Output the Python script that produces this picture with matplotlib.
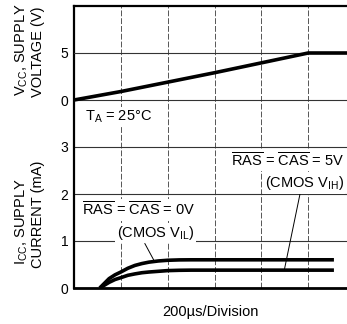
import matplotlib
matplotlib.use("Agg")
import matplotlib.pyplot as plt

plt.rcParams['font.family'] = ['Liberation Sans', 'DejaVu Sans']
plt.rcParams['mathtext.fontset'] = 'custom'
plt.rcParams['mathtext.rm'] = 'Liberation Sans'
plt.rcParams['mathtext.it'] = 'Liberation Sans:italic'

# time axis in microseconds (200 us / division)
div_ticks = [0, 200, 400, 600, 800, 1000, 1200]

# supply voltage ramp
t_volt = [0, 200, 400, 600, 800, 1000, 1200]
vcc = [0, 0.9, 1.9, 2.9, 3.95, 5.0, 5.0]

# supply current curves (mA)
t_curr = [110, 130, 150, 175, 200, 230, 260, 290, 320, 360, 400, 450, 500, 1110]
icc_vil = [0, 0.1, 0.2, 0.28, 0.34, 0.42, 0.48, 0.52, 0.55, 0.575, 0.59, 0.598, 0.6, 0.6]
icc_vih = [0, 0.06, 0.12, 0.18, 0.22, 0.27, 0.3, 0.325, 0.34, 0.355, 0.37, 0.377, 0.38, 0.38]

curr_ticks = [0, 1, 2, 3]
volt_ticks = [0, 5]

fig = plt.figure(figsize=(3.47, 3.24), dpi=100)
ax = fig.add_axes([74 / 347, 36 / 324, 281 / 347, 282 / 324])
axv = ax.twinx()

ax.set_xlim(0, 1200)
ax.set_ylim(0, 6)
axv.set_ylim(-20, 10)

ax.set_xticks(div_ticks)
ax.set_xticklabels([])
ax.set_yticks(curr_ticks)
axv.set_yticks(volt_ticks)
axv.yaxis.tick_left()

for a in (ax, axv):
    a.tick_params(length=0, labelsize=10, pad=4)
    for s in a.spines.values():
        s.set_visible(False)

ax.spines['left'].set_visible(True)
ax.spines['left'].set_linewidth(1.6)
ax.spines['bottom'].set_visible(True)
ax.spines['bottom'].set_linewidth(2.0)
ax.spines['top'].set_visible(True)
ax.spines['top'].set_linewidth(1.6)

ax.grid(axis='x', color='#555555', linewidth=0.7, linestyle=(0, (6, 2)))
ax.grid(axis='y', color='#333333', linewidth=0.8)
axv.grid(axis='y', color='#333333', linewidth=0.8)
ax.set_axisbelow(True)
axv.set_axisbelow(True)

axv.plot(t_volt, vcc, color='black', linewidth=2.6, solid_capstyle='butt', zorder=5)
ax.plot(t_curr, icc_vil, color='black', linewidth=2.6, solid_capstyle='butt', zorder=5)
ax.plot(t_curr, icc_vih, color='black', linewidth=2.6, solid_capstyle='butt', zorder=5)

box = dict(facecolor='white', edgecolor='none', pad=1.0)
fs = 10.5
ax.text(47, 3.64, r'T$_\mathrm{A}$ = 25°C', fontsize=fs, ha='left', va='center', bbox=box, zorder=6)
ax.text(1153, 2.72, r'$\overline{\mathrm{RAS}}$ = $\overline{\mathrm{CAS}}$ = 5V',
        fontsize=fs, ha='right', va='center', bbox=box, zorder=6)
ax.annotate(r'(CMOS V$_\mathrm{IH}$)', xy=(898, 0.38), xytext=(1153, 2.23),
            fontsize=fs, ha='right', va='center', bbox=box, zorder=6,
            arrowprops=dict(arrowstyle='-', color='black', linewidth=0.7,
                            relpos=(0.45, 0.0), shrinkA=0, shrinkB=0))
ax.text(34, 1.66, r'$\overline{\mathrm{RAS}}$ = $\overline{\mathrm{CAS}}$ = 0V',
        fontsize=fs, ha='left', va='center', bbox=box, zorder=6)
ax.annotate(r'(CMOS V$_\mathrm{IL}$)', xy=(340, 0.6), xytext=(183, 1.17),
            fontsize=fs, ha='left', va='center', bbox=box, zorder=6,
            arrowprops=dict(arrowstyle='-', color='black', linewidth=0.7,
                            relpos=(0.35, 0.0), shrinkA=0, shrinkB=0))

lfs = 10.5
fig.text(22 / 347, 1 - 50 / 324, 'V$_\\mathrm{CC}$, SUPPLY', rotation=90,
         fontsize=lfs, ha='center', va='center')
fig.text(38 / 347, 1 - 52 / 324, 'VOLTAGE (V)', rotation=90,
         fontsize=lfs, ha='center', va='center')
fig.text(22 / 347, 1 - 222 / 324, 'I$_\\mathrm{CC}$, SUPPLY', rotation=90,
         fontsize=lfs, ha='center', va='center')
fig.text(38 / 347, 1 - 214 / 324, 'CURRENT (mA)', rotation=90,
         fontsize=lfs, ha='center', va='center')
fig.text(210 / 347, 1 - 312 / 324, '200µs/Division', fontsize=10.5,
         ha='center', va='center')

fig.savefig('out.png', dpi=100)
